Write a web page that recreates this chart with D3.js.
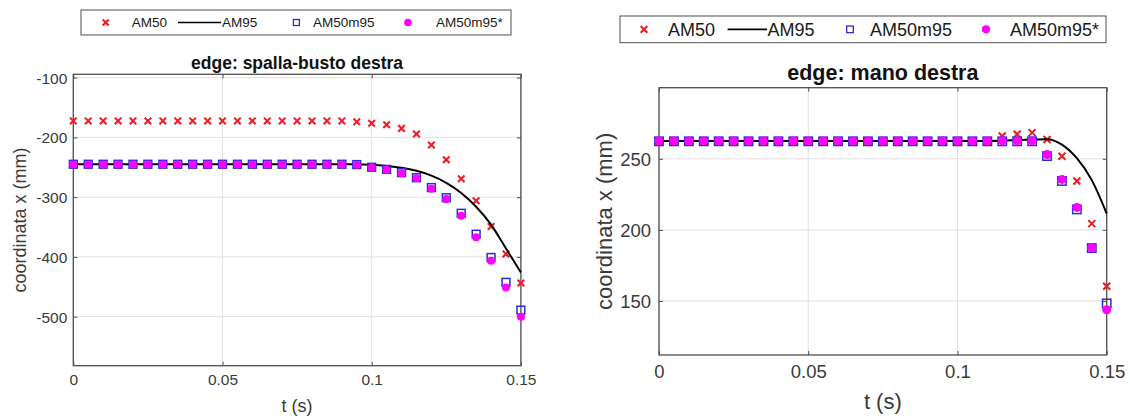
<!DOCTYPE html>
<html>
<head>
<meta charset="utf-8">
<script src="https://cdn.jsdelivr.net/npm/d3@7/dist/d3.min.js"></script>
<style>
  html, body { margin: 0; padding: 0; background: #fff; }
  svg { display: block; font-family: "Liberation Sans", Arial, sans-serif; }
</style>
</head>
<body>
<svg id="chart" width="1130" height="416"></svg>
<script>
// ---------------- DATA ----------------
const seriesNames = ["AM50", "AM95", "AM50m95", "AM50m95*"];
const tValues = [0, 0.005, 0.01, 0.015, 0.02, 0.025, 0.03, 0.035, 0.04, 0.045,
                 0.05, 0.055, 0.06, 0.065, 0.07, 0.075, 0.08, 0.085, 0.09, 0.095,
                 0.1, 0.105, 0.11, 0.115, 0.12, 0.125, 0.13, 0.135, 0.14, 0.145, 0.15];
const xTicks = [0, 0.05, 0.1, 0.15];

// edge: spalla-busto destra
const spallaTitle = "edge: spalla-busto destra";
const spallaYTicks = [-100, -200, -300, -400, -500];
const spallaAM50 = [-172.5, -172.5, -172.5, -172.5, -172.5, -172.5, -172.5, -172.5, -172.5, -172.5,
                    -172.5, -172.5, -172.5, -172.5, -172.5, -172.5, -172.5, -172.5, -172.5, -174,
                    -176.5, -179, -185, -194.4, -212.8, -237.4, -269.3, -306.1, -349.2, -395, -443.6];
const spallaAM95 = [-245, -245, -245, -245, -245, -245, -245, -245, -245, -245,
                    -245, -245, -245, -245, -245, -245, -245, -245, -245, -245,
                    -246, -248, -251, -256, -264, -276, -293, -316, -346, -386, -426];
const spallaAM50m95 = [-245, -245, -245, -245, -245, -245, -245, -245, -245, -245,
                       -245, -245, -245, -245, -245, -245, -245, -245, -245, -245.5,
                       -250, -253.5, -259, -267.5, -284, -301, -327, -362, -401, -442.5, -489];
const spallaAM50m95s = [-245.5, -245.5, -245.5, -245.5, -245.5, -245.5, -245.5, -245.5, -245.5, -245.5,
                        -245.5, -245.5, -245.5, -245.5, -245.5, -245.5, -245.5, -245.5, -245.5, -246,
                        -250.5, -254, -260, -268.5, -286, -303, -331, -367, -406.5, -451, -500];

// edge: mano destra
const manoTitle = "edge: mano destra";
const manoYTicks = [150, 200, 250];
const manoAM50 = [262.5, 262.5, 262.5, 262.5, 262.5, 262.5, 262.5, 262.5, 262.5, 262.5,
                  262.5, 262.5, 262.5, 262.5, 262.5, 262.5, 262.5, 262.5, 262.5, 262.5,
                  262.5, 262.5, 262.5, 266, 267.3, 268.4, 263.5, 251.8, 234.3, 204.4, 160.4];
const manoAM95 = [262.6, 262.6, 262.6, 262.6, 262.6, 262.6, 262.6, 262.6, 262.6, 262.6,
                  262.6, 262.6, 262.6, 262.6, 262.6, 262.6, 262.6, 262.6, 262.6, 262.6,
                  262.6, 262.6, 262.6, 262.7, 263.2, 263.6, 263.8, 260, 250.4, 235, 211.5];
const manoAM50m95 = [262.3, 262.3, 262.3, 262.3, 262.3, 262.3, 262.3, 262.3, 262.3, 262.3,
                     262.3, 262.3, 262.3, 262.3, 262.3, 262.3, 262.3, 262.3, 262.3, 262.3,
                     262.3, 262.3, 262.3, 262.3, 262.3, 262.3, 251.9, 234.4, 214.4, 187.2, 148.3];
const manoAM50m95s = [262.6, 262.6, 262.6, 262.6, 262.6, 262.6, 262.6, 262.6, 262.6, 262.6,
                      262.6, 262.6, 262.6, 262.6, 262.6, 262.6, 262.6, 262.6, 262.6, 262.6,
                      262.6, 262.6, 262.6, 262.6, 262.6, 262.6, 253, 235.5, 215.8, 187.4, 143.8];

const xLabel = "t (s)";
const yLabel = "coordinata x (mm)";

// ---------------- STYLE ----------------
const COLORS = { red: "#ee1c24", black: "#000", blue: "#2b2bd9", magenta: "#ff00ff",
                 axis: "#4f4f4f", grid: "#e0e0e0", tick: "#3a3a3a" };

const svg = d3.select("#chart");
const plainFormat = d => String(d);   // hyphen-minus like the original

function drawPanel(cfg, data) {
  const g = svg.append("g");
  const x = d3.scaleLinear().domain([0, 0.15]).range([cfg.left, cfg.right]);
  const y = d3.scaleLinear().domain(cfg.yDomain).range([cfg.bottom, cfg.top]);

  // grid
  g.append("g").selectAll("line.gx").data(data.xTicks).join("line")
    .attr("x1", d => x(d)).attr("x2", d => x(d))
    .attr("y1", cfg.top).attr("y2", cfg.bottom)
    .attr("stroke", COLORS.grid).attr("stroke-width", 1);
  g.append("g").selectAll("line.gy").data(data.yTicks).join("line")
    .attr("x1", cfg.left).attr("x2", cfg.right)
    .attr("y1", d => y(d)).attr("y2", d => y(d))
    .attr("stroke", COLORS.grid).attr("stroke-width", 1);

  // axes via d3 axis (ticks inward)
  const tl = 4;
  const xAxis = d3.axisBottom(x).tickValues(data.xTicks).tickFormat(plainFormat)
    .tickSizeInner(-tl).tickSizeOuter(0).tickPadding(cfg.xTickPad);
  const yAxis = d3.axisLeft(y).tickValues(data.yTicks).tickFormat(plainFormat)
    .tickSizeInner(-tl).tickSizeOuter(0).tickPadding(cfg.yTickPad);
  const xa = g.append("g").attr("transform", `translate(0,${cfg.bottom})`).call(xAxis);
  const ya = g.append("g").attr("transform", `translate(${cfg.left},0)`).call(yAxis);
  const xt = g.append("g").attr("transform", `translate(0,${cfg.top})`)
    .call(d3.axisTop(x).tickValues(data.xTicks).tickFormat("").tickSizeInner(-tl).tickSizeOuter(0));
  const yr = g.append("g").attr("transform", `translate(${cfg.right},0)`)
    .call(d3.axisRight(y).tickValues(data.yTicks).tickFormat("").tickSizeInner(-tl).tickSizeOuter(0));
  [xa, ya, xt, yr].forEach(a => {
    a.select(".domain").remove();
    a.selectAll("line").attr("stroke", COLORS.axis);
    a.selectAll("text").attr("fill", COLORS.tick).attr("font-size", cfg.tickFont)
      .attr("font-family", "Liberation Sans, Arial, sans-serif");
  });
  xa.selectAll("text").attr("dy", "0.71em");
  ya.selectAll("text").attr("dy", "0.35em");

  // box
  g.append("rect").attr("x", cfg.left).attr("y", cfg.top)
    .attr("width", cfg.right - cfg.left).attr("height", cfg.bottom - cfg.top)
    .attr("fill", "none").attr("stroke", COLORS.axis).attr("stroke-width", 1.3);

  const pts = arr => data.t.map((tv, i) => [tv, arr[i]]);

  // AM50 crosses
  const cs = cfg.xSize;
  g.append("g").selectAll("path").data(pts(data.am50)).join("path")
    .attr("d", d => `M${x(d[0]) - cs},${y(d[1]) - cs}L${x(d[0]) + cs},${y(d[1]) + cs}M${x(d[0]) - cs},${y(d[1]) + cs}L${x(d[0]) + cs},${y(d[1]) - cs}`)
    .attr("stroke", COLORS.red).attr("stroke-width", cfg.xStroke).attr("fill", "none");

  // AM95 line
  g.append("path").datum(pts(data.am95))
    .attr("d", d3.line().x(d => x(d[0])).y(d => y(d[1])).curve(d3.curveMonotoneX))
    .attr("fill", "none").attr("stroke", COLORS.black).attr("stroke-width", cfg.lineW);

  // AM50m95 squares
  const ss = cfg.sqSize;
  g.append("g").selectAll("rect").data(pts(data.am50m95)).join("rect")
    .attr("x", d => x(d[0]) - ss).attr("y", d => y(d[1]) - ss)
    .attr("width", 2 * ss).attr("height", 2 * ss)
    .attr("fill", "none").attr("stroke", COLORS.blue).attr("stroke-width", 1.5);

  // AM50m95* dots
  g.append("g").selectAll("circle").data(pts(data.am50m95s)).join("circle")
    .attr("cx", d => x(d[0])).attr("cy", d => y(d[1])).attr("r", cfg.dotR)
    .attr("fill", COLORS.magenta);

  // title
  g.append("text").attr("x", (cfg.left + cfg.right) / 2).attr("y", cfg.titleY)
    .attr("text-anchor", "middle").attr("font-weight", "bold")
    .attr("font-size", cfg.titleFont).attr("fill", "#111").text(data.title);
  // x label
  g.append("text").attr("x", (cfg.left + cfg.right) / 2).attr("y", cfg.xLabelY)
    .attr("text-anchor", "middle").attr("font-size", cfg.labelFont)
    .attr("fill", COLORS.tick).text(xLabel);
  // y label
  g.append("text")
    .attr("transform", `translate(${cfg.yLabelX},${(cfg.top + cfg.bottom) / 2}) rotate(-90)`)
    .attr("text-anchor", "middle").attr("font-size", cfg.labelFont)
    .attr("fill", COLORS.tick).text(yLabel);

  // legend
  const L = cfg.legend;
  const lg = g.append("g");
  lg.append("rect").attr("x", L.x0).attr("y", L.y0).attr("width", L.x1 - L.x0).attr("height", L.y1 - L.y0)
    .attr("fill", "#fff").attr("stroke", COLORS.axis).attr("stroke-width", 1);
  const cy = (L.y0 + L.y1) / 2;
  const ls = L.mk;
  lg.append("path")
    .attr("d", `M${L.xMark - ls},${cy - ls}L${L.xMark + ls},${cy + ls}M${L.xMark - ls},${cy + ls}L${L.xMark + ls},${cy - ls}`)
    .attr("stroke", COLORS.red).attr("stroke-width", cfg.xStroke);
  lg.append("line").attr("x1", L.line[0]).attr("x2", L.line[1]).attr("y1", cy).attr("y2", cy)
    .attr("stroke", COLORS.black).attr("stroke-width", 1.6);
  lg.append("rect").attr("x", L.sq - ls).attr("y", cy - ls).attr("width", 2 * ls).attr("height", 2 * ls)
    .attr("fill", "none").attr("stroke", COLORS.blue).attr("stroke-width", 1.3);
  lg.append("circle").attr("cx", L.dot).attr("cy", cy).attr("r", ls + 0.8).attr("fill", COLORS.magenta);
  seriesNames.forEach((n, i) => {
    lg.append("text").attr("x", L.texts[i]).attr("y", cy).attr("dy", "0.36em")
      .attr("font-size", L.font).attr("fill", "#1a1a1a").text(n);
  });
}

drawPanel({
  left: 73.3, right: 520.9, top: 74.3, bottom: 365.7, yDomain: [-582, -94.5],
  tickFont: 15.5, labelFont: 18, titleFont: 17.5, titleY: 68.5, xLabelY: 412, yLabelX: 26,
  xTickPad: 8, yTickPad: 6,
  xSize: 3.3, xStroke: 2.1, sqSize: 3.9, dotR: 4, lineW: 2,
  legend: { x0: 81, x1: 511, y0: 10, y1: 35, font: 13.5, mk: 3,
            xMark: 105.7, line: [178, 221], sq: 296.4, dot: 408,
            texts: [131.7, 222, 313, 436] }
}, { t: tValues, xTicks: xTicks, yTicks: spallaYTicks, title: spallaTitle,
     am50: spallaAM50, am95: spallaAM95, am50m95: spallaAM50m95, am50m95s: spallaAM50m95s });

drawPanel({
  left: 659, right: 1106.7, top: 87.7, bottom: 355, yDomain: [112, 300],
  tickFont: 18.5, labelFont: 22, titleFont: 21.5, titleY: 80, xLabelY: 409, yLabelX: 612,
  xTickPad: 10, yTickPad: 8,
  xSize: 3.5, xStroke: 2.1, sqSize: 4.2, dotR: 4.5, lineW: 2,
  legend: { x0: 620, x1: 1106, y0: 16, y1: 42.7, font: 18, mk: 3.3,
            xMark: 644, line: [727.6, 767], sq: 850, dot: 986,
            texts: [668, 767.5, 870, 1010] }
}, { t: tValues, xTicks: xTicks, yTicks: manoYTicks, title: manoTitle,
     am50: manoAM50, am95: manoAM95, am50m95: manoAM50m95, am50m95s: manoAM50m95s });
</script>
</body>
</html>
